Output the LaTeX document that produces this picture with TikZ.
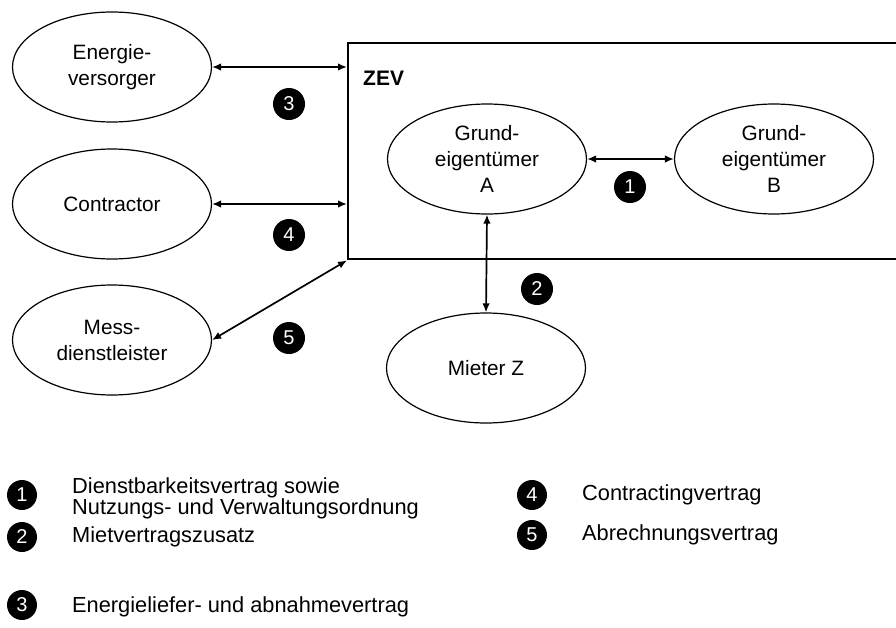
\documentclass[tikz,border=0pt]{standalone}
\usepackage{fontspec}
\setmainfont{Liberation Sans}
\usetikzlibrary{positioning,arrows.meta,shapes.geometric}

\begin{document}
\begin{tikzpicture}[x=1pt,y=-1pt,
	party/.style={ellipse,draw,line width=1.2pt,minimum width=199pt,minimum height=110pt,inner sep=0pt,align=center,font=\fontsize{20.8}{26}\selectfont},
	num/.style={circle,fill=black,text=white,minimum size=32pt,inner sep=0pt,font=\fontsize{20}{20}\selectfont},
	legnum/.style={num,minimum size=30pt},
	legtext/.style={anchor=west,align=left,inner sep=0pt,font=\fontsize{21.8}{21}\selectfont},
	link/.style={{Latex[length=9pt,width=7.5pt]}-{Latex[length=9pt,width=7.5pt]},line width=1.7pt}]
	\useasboundingbox (0,0) rectangle (896,627);
	
	% ZEV box, its right side runs off the page
	\node (zev) [draw,line width=2.4pt,minimum width=580pt,minimum height=216pt,anchor=north west,inner sep=0pt] at (347,42) {};
	\node (zevlabel) [anchor=west,inner sep=0pt,font=\fontsize{21}{21}\selectfont\bfseries] at (363,78) {ZEV};
	
	% parties
	\node (ev)   [party] at (112,67)  {Energie-\\versorger};
	\node (con)  [party] at (112,204) {Contractor};
	\node (mess) [party] at (112,340) {Mess-\\dienstleister};
	\node (ga)   [party] at (487,159) {Grund-\\eigentümer\\A};
	\node (gb)   [party] at (774,159) {Grund-\\eigentümer\\B};
	\node (mz)   [party] at (486,368) {Mieter Z};
	
	% contracts
	\draw[link] (ev.east) -- (ev.east -| zev.west);
	\draw[link] (con.east) -- (con.east -| zev.west);
	\draw[link] (mess.east) -- (zev.south west);
	\draw[link] (ga.east) -- (gb.west);
	\draw[link] (ga.south) -- (mz.north);
	
	\node (n1) [num] at (630,187) {1};
	\node (n2) [num] at (537,289) {2};
	\node (n3) [num] at (289,104) {3};
	\node (n4) [num] at (289,235) {4};
	\node (n5) [num] at (289,338) {5};
	
	% legend
	\node (l1) [legnum] at (22,495) {1};
	\node (l2) [legnum] at (22,537) {2};
	\node (l3) [legnum] at (22,605) {3};
	\node (l4) [legnum] at (532,495) {4};
	\node (l5) [legnum] at (532,535) {5};
	\node (t1) [legtext] at (72,498) {Dienstbarkeitsvertrag sowie\\Nutzungs- und Verwaltungsordnung};
	\node (t2) [legtext] at (72,537) {Mietvertragszusatz};
	\node (t3) [legtext] at (72,607) {Energieliefer- und abnahmevertrag};
	\node (t4) [legtext] at (582,495) {Contractingvertrag};
	\node (t5) [legtext] at (582,535) {Abrechnungsvertrag};
\end{tikzpicture}
\end{document}
